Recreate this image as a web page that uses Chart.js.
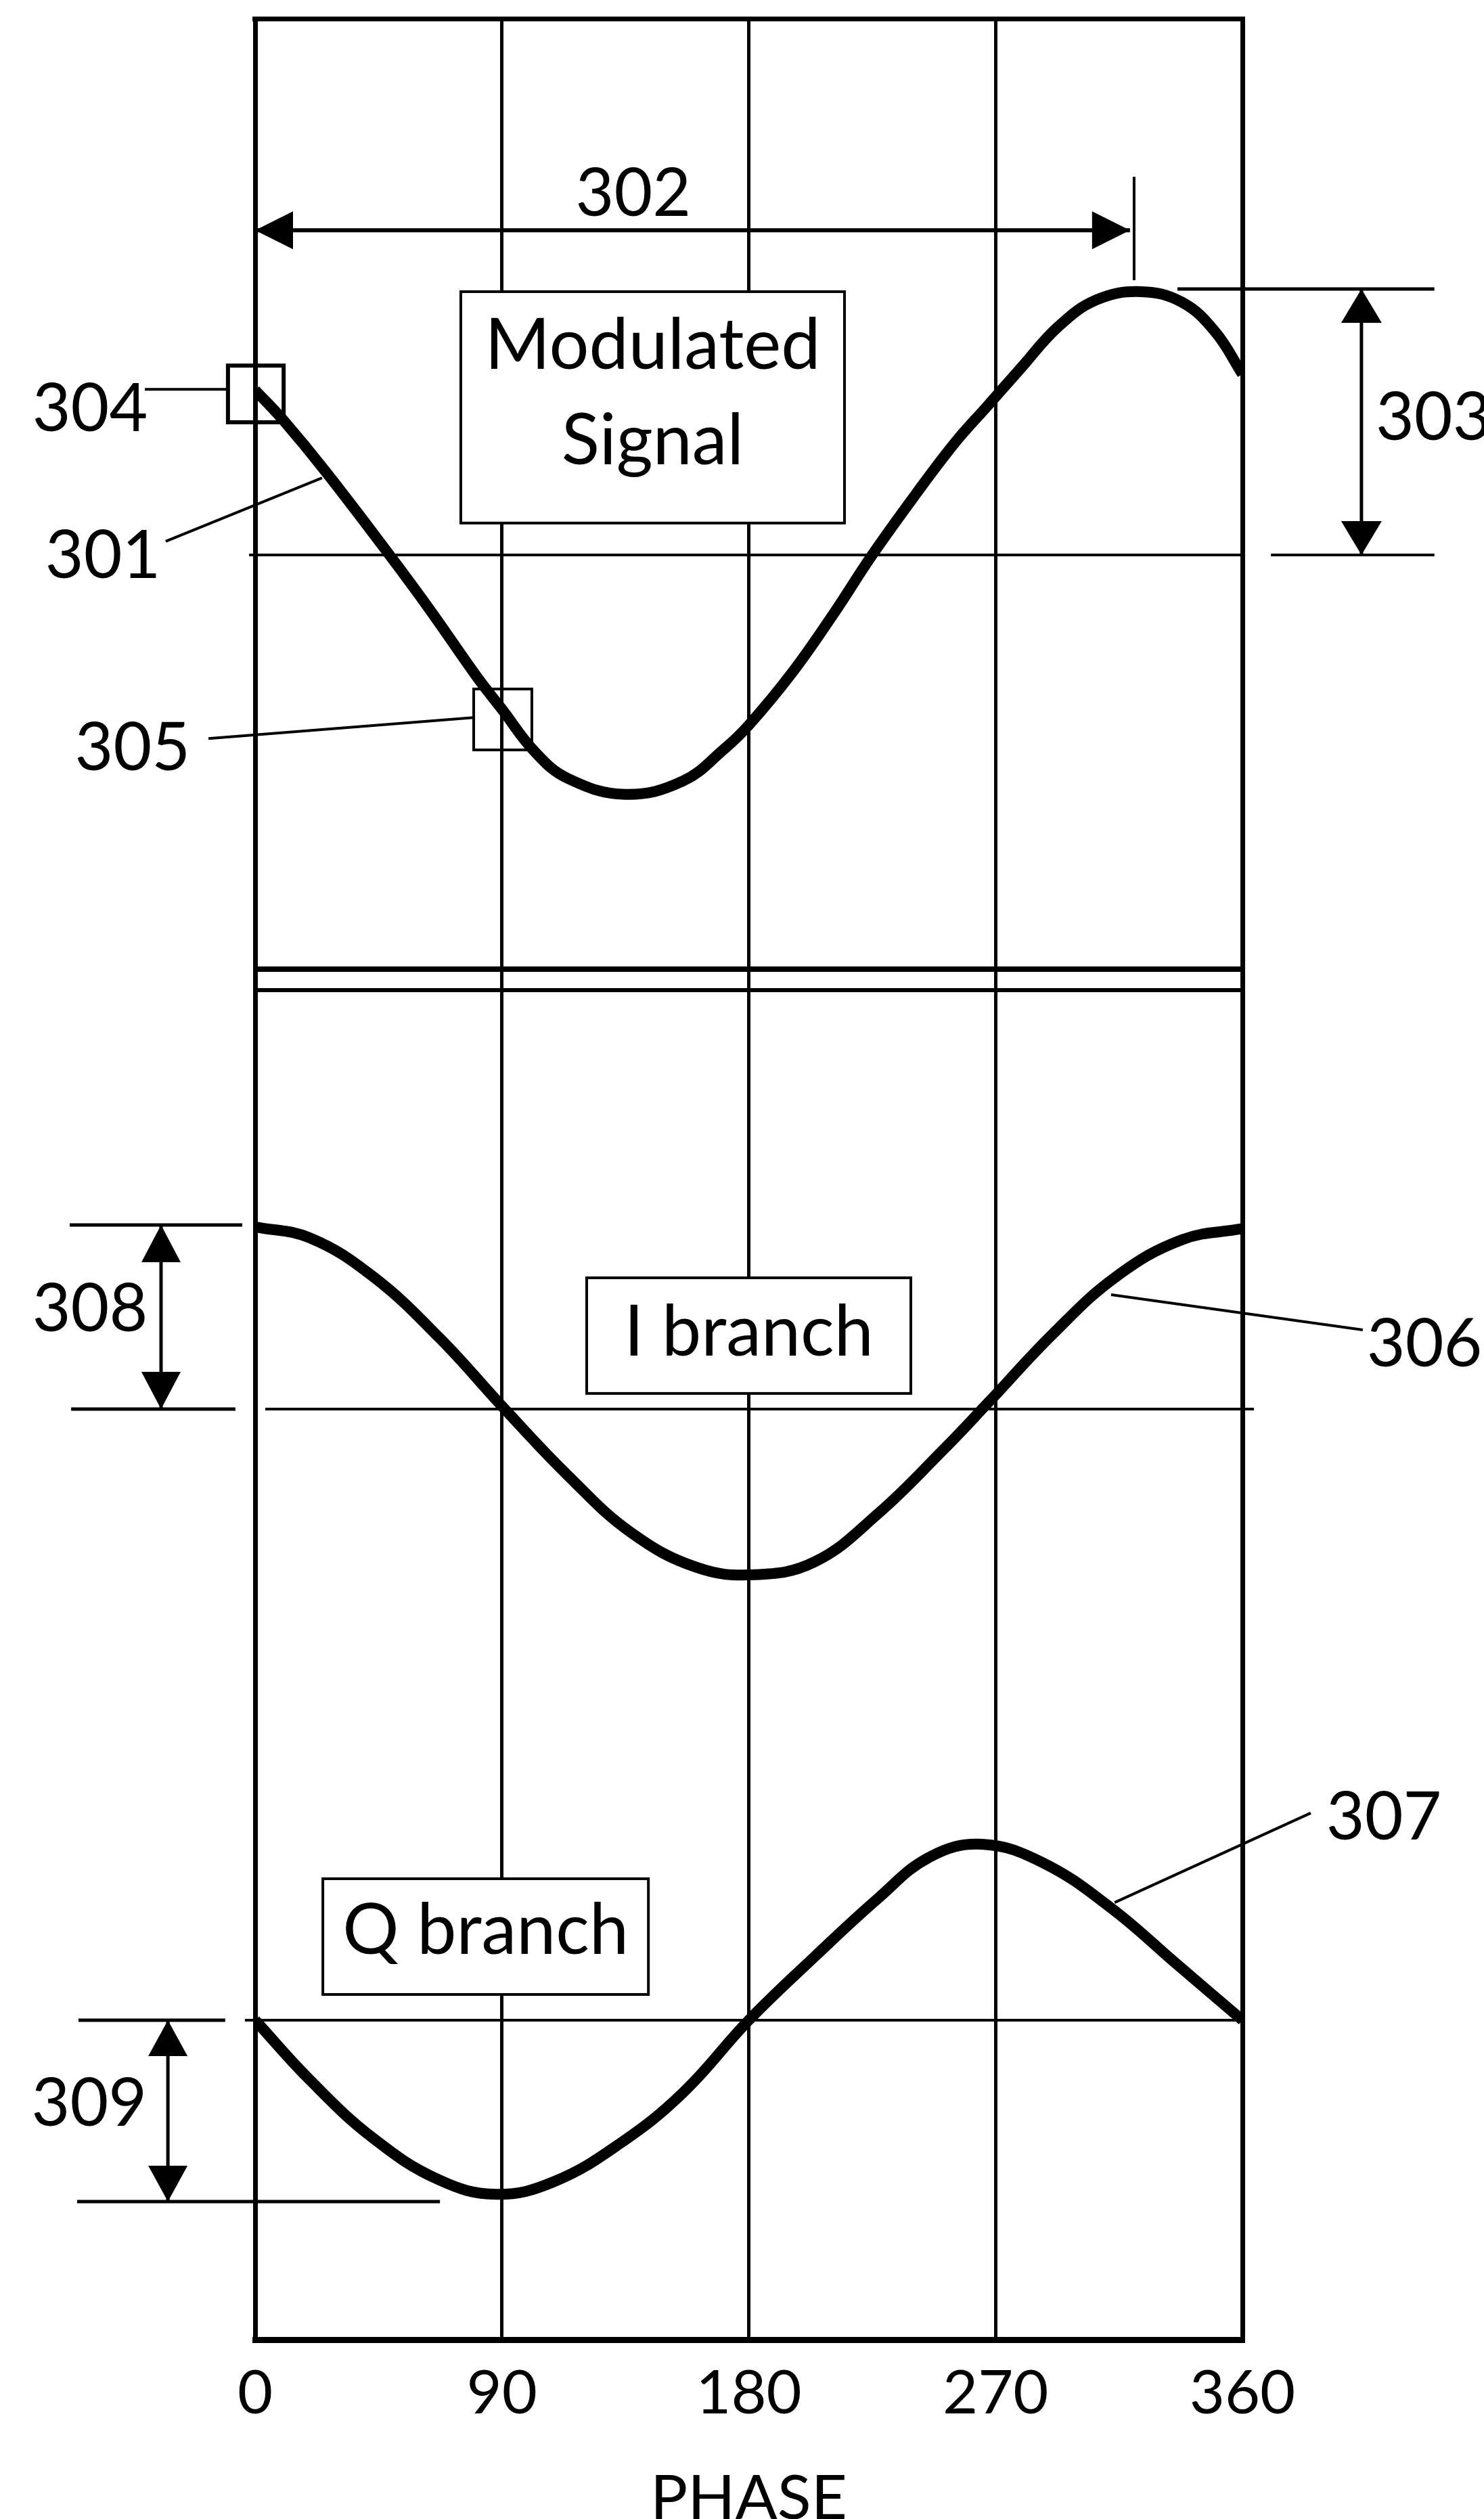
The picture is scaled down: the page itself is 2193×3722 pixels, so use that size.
<!DOCTYPE html>
<html>
<head>
<meta charset="utf-8">
<title>Modulated signal with I and Q branches</title>
<script src="https://cdn.jsdelivr.net/npm/chart.js@4.4.1/dist/chart.umd.min.js"></script>
<style>
    html, body { margin: 0; padding: 0; background: #fff; }
    #wrap { width: 2193px; height: 3722px; }
</style>
</head>
<body>
<div id="wrap"><canvas id="phase-chart" width="2193" height="3722"></canvas></div>
<script>
// x axis ticks, degrees
const phaseTicks = [0, 90, 180, 270, 360];

// modulated signal (301), 1.0 = height of arrow 303
const modPhase = [0, 10, 26, 49, 64, 81, 90, 102, 114, 135, 156, 171, 180, 196, 211, 225, 241, 255, 267, 279, 293, 307, 323, 338, 350, 360];
const modValue = [0.62, 0.51, 0.31, 0.0, -0.21, -0.46, -0.58, -0.74, -0.84, -0.90, -0.85, -0.73, -0.64, -0.44, -0.22, 0.0, 0.23, 0.42, 0.56, 0.70, 0.86, 0.96, 0.99, 0.95, 0.84, 0.68];

// I branch (306), 1.0 = height of arrow 308
const iPhase = [0, 20, 43, 67, 91, 114, 137, 161, 182, 204, 227, 251, 267, 291, 314, 338, 360];
const iValue = [0.99, 0.93, 0.72, 0.39, 0.0, -0.36, -0.67, -0.86, -0.90, -0.83, -0.57, -0.22, 0.03, 0.41, 0.72, 0.92, 0.98];

// Q branch (307), 1.0 = height of arrow 309
const qPhase = [0, 20, 43, 67, 88, 109, 133, 156, 180, 204, 227, 246, 265, 287, 312, 336, 360];
const qValue = [0, -0.33, -0.65, -0.88, -0.96, -0.89, -0.68, -0.40, 0, 0.35, 0.67, 0.90, 0.97, 0.87, 0.62, 0.31, 0];

const FONT = 'Lato, "DejaVu Sans", sans-serif';
const INK = '#000';

function toPoints(xs, ys) {
    return xs.map((x, i) => ({ x: x, y: ys[i] }));
}

// reference marks, given as [phase, value] on the named y axis
const guideLines = [
    { axis: 'yMod', from: [-2.2, 0], to: [360, 0], w: 4 },
    { axis: 'yMod', from: [370.4, 0], to: [430, 0], w: 4 },
    { axis: 'yMod', from: [336.3, 1], to: [430, 1], w: 5 },
    { axis: 'yMod', from: [320.5, 1.422], to: [320.5, 1.033], w: 4 },
    { axis: 'yMod', from: [-40.2, 0.623], to: [-9.9, 0.623], w: 4 },
    { axis: 'yMod', from: [-32.6, 0.051], to: [24.4, 0.29], w: 4 },
    { axis: 'yMod', from: [-17.0, -0.69], to: [79.7, -0.611], w: 4 },
    { axis: 'yMod', from: [0, -1.557], to: [360, -1.557], w: 8 },
    { axis: 'yMod', from: [0, -1.636], to: [360, -1.636], w: 6 },
    { axis: 'yI', from: [-67.6, 1], to: [-4.7, 1], w: 5 },
    { axis: 'yI', from: [-67.1, 0], to: [-7.2, 0], w: 5 },
    { axis: 'yI', from: [3.7, 0], to: [364.2, 0], w: 4 },
    { axis: 'yI', from: [312.1, 0.621], to: [403.9, 0.43], w: 4 },
    { axis: 'yQ', from: [-64.4, 0], to: [-10.9, 0], w: 5 },
    { axis: 'yQ', from: [-3.7, 0], to: [360.7, 0], w: 4 },
    { axis: 'yQ', from: [-64.9, -1], to: [67.4, -1], w: 5 },
    { axis: 'yQ', from: [313.4, 0.649], to: [384.9, 1.142], w: 4 }
];

const dimArrows = [
    { axis: 'yMod', from: [0, 1.221], to: [319, 1.221], w: 6, len: 56, half: 28 },
    { axis: 'yMod', from: [403.4, 1], to: [403.4, 0], w: 5, len: 50, half: 30 },
    { axis: 'yI', from: [-34.3, 1], to: [-34.3, 0], w: 5, len: 55, half: 29 },
    { axis: 'yQ', from: [-31.8, 0], to: [-31.8, -1], w: 5, len: 53, half: 29 }
];

const noteBoxes = [
    { axis: 'yMod', from: [75.0, 0.99], to: [214.9, 0.12], w: 4, fill: true,
      lines: [{ text: 'Modulated', v: 0.70 }, { text: 'Signal', v: 0.341 }] },
    { axis: 'yMod', from: [-9.9, 0.712], to: [10.4, 0.499], w: 6, fill: false, lines: [] },
    { axis: 'yMod', from: [79.7, -0.504], to: [100.9, -0.733], w: 4, fill: false, lines: [] },
    { axis: 'yI', from: [120.9, 0.713], to: [239.1, 0.085], w: 4, fill: true,
      lines: [{ text: 'I branch', v: 0.29 }] },
    { axis: 'yQ', from: [24.7, 0.78], to: [143.4, 0.142], w: 4, fill: true,
      lines: [{ text: 'Q branch', v: 0.366 }] }
];

const refLabels = [
    { axis: 'yMod', at: [137.9, 1.356], text: '302', align: 'center' },
    { axis: 'yMod', at: [408.6, 0.514], text: '303', align: 'left' },
    { axis: 'yMod', at: [-60.2, 0.547], text: '304', align: 'center' },
    { axis: 'yMod', at: [-55.5, -0.005], text: '301', align: 'center' },
    { axis: 'yMod', at: [-44.7, -0.728], text: '305', align: 'center' },
    { axis: 'yI', at: [-60.2, 0.54], text: '308', align: 'center' },
    { axis: 'yI', at: [426.4, 0.349], text: '306', align: 'center' },
    { axis: 'yQ', at: [-60.5, -0.466], text: '309', align: 'center' },
    { axis: 'yQ', at: [411.6, 1.116], text: '307', align: 'center' }
];

function drawLine(ctx, x1, y1, x2, y2, w) {
    ctx.beginPath();
    ctx.moveTo(x1, y1);
    ctx.lineTo(x2, y2);
    ctx.lineWidth = w;
    ctx.stroke();
}

function drawHead(ctx, x, y, ang, len, half) {
    const bx = x - len * Math.cos(ang);
    const by = y - len * Math.sin(ang);
    ctx.beginPath();
    ctx.moveTo(x, y);
    ctx.lineTo(bx + half * Math.sin(ang), by - half * Math.cos(ang));
    ctx.lineTo(bx - half * Math.sin(ang), by + half * Math.cos(ang));
    ctx.closePath();
    ctx.fill();
}

const annotate = {
    id: 'annotate',
    afterDraw(chart) {
        const ctx = chart.ctx;
        const area = chart.chartArea;
        const X = p => chart.scales.x.getPixelForValue(p);
        const Y = (axis, v) => chart.scales[axis].getPixelForValue(v);

        ctx.save();
        ctx.strokeStyle = INK;
        ctx.fillStyle = INK;
        ctx.lineCap = 'butt';

        // top frame
        drawLine(ctx, area.left - 4, area.top, area.right + 4, area.top, 7);

        guideLines.forEach(g => {
            drawLine(ctx, X(g.from[0]), Y(g.axis, g.from[1]), X(g.to[0]), Y(g.axis, g.to[1]), g.w);
        });

        dimArrows.forEach(a => {
            const x1 = X(a.from[0]), y1 = Y(a.axis, a.from[1]);
            const x2 = X(a.to[0]), y2 = Y(a.axis, a.to[1]);
            const ang = Math.atan2(y2 - y1, x2 - x1);
            drawLine(ctx, x1, y1, x2, y2, a.w);
            drawHead(ctx, x2, y2, ang, a.len, a.half);
            drawHead(ctx, x1, y1, ang + Math.PI, a.len, a.half);
        });

        noteBoxes.forEach(b => {
            const x1 = X(b.from[0]), y1 = Y(b.axis, b.from[1]);
            const x2 = X(b.to[0]), y2 = Y(b.axis, b.to[1]);
            if (b.fill) {
                ctx.fillStyle = '#fff';
                ctx.fillRect(x1, y1, x2 - x1, y2 - y1);
                ctx.fillStyle = INK;
            }
            ctx.lineWidth = b.w;
            ctx.strokeRect(x1, y1, x2 - x1, y2 - y1);
            ctx.font = '104px ' + FONT;
            ctx.textAlign = 'center';
            ctx.textBaseline = 'alphabetic';
            b.lines.forEach(l => {
                ctx.fillText(l.text, (x1 + x2) / 2, Y(b.axis, l.v));
            });
        });

        ctx.font = '98px ' + FONT;
        ctx.textBaseline = 'middle';
        refLabels.forEach(l => {
            ctx.textAlign = l.align;
            ctx.fillText(l.text, X(l.at[0]), Y(l.axis, l.at[1]));
        });

        ctx.restore();
    }
};

function curve(label, xs, ys, axis) {
    return {
        label: label,
        data: toPoints(xs, ys),
        yAxisID: axis,
        borderColor: INK,
        borderWidth: 16,
        pointRadius: 0,
        fill: false,
        tension: 0.4,
        borderCapStyle: 'butt',
        borderJoinStyle: 'round'
    };
}

const ctx = document.getElementById('phase-chart').getContext('2d');
const phaseChart = new Chart(ctx, {
    type: 'line',
    data: {
        datasets: [
            curve('Modulated Signal', modPhase, modValue, 'yMod'),
            curve('I branch', iPhase, iValue, 'yI'),
            curve('Q branch', qPhase, qValue, 'yQ')
        ]
    },
    options: {
        responsive: false,
        animation: false,
        devicePixelRatio: 1,
        layout: { padding: { left: 377, right: 357, top: 28, bottom: 0 } },
        plugins: {
            legend: { display: false },
            tooltip: { enabled: false }
        },
        scales: {
            x: {
                type: 'linear',
                position: 'bottom',
                min: 0,
                max: 360,
                afterBuildTicks: s => { s.ticks = phaseTicks.map(v => ({ value: v })); },
                afterFit: s => { s.height = 265; },
                grid: {
                    color: INK,
                    lineWidth: c => (c.tick && (c.tick.value === 0 || c.tick.value === 360)) ? 7 : 5,
                    drawTicks: false
                },
                border: { display: true, color: INK, width: 9 },
                ticks: {
                    color: INK,
                    padding: 35,
                    maxRotation: 0,
                    autoSkip: false,
                    font: { family: FONT, size: 90, lineHeight: 1 },
                    callback: v => String(v)
                },
                title: {
                    display: true,
                    text: 'PHASE',
                    color: INK,
                    font: { family: FONT, size: 92, lineHeight: 1 },
                    padding: { top: 0, bottom: -16 }
                }
            },
            // each panel has its own axis: midline and unit height come from the figure
            yMod: { type: 'linear', display: false, min: -6.7099, max: 2.0153 },
            yI: { type: 'linear', display: false, min: -5.0551, max: 7.5515 },
            yQ: { type: 'linear', display: false, min: -1.7612, max: 11.0336 }
        }
    },
    plugins: [annotate]
});
</script>
</body>
</html>
